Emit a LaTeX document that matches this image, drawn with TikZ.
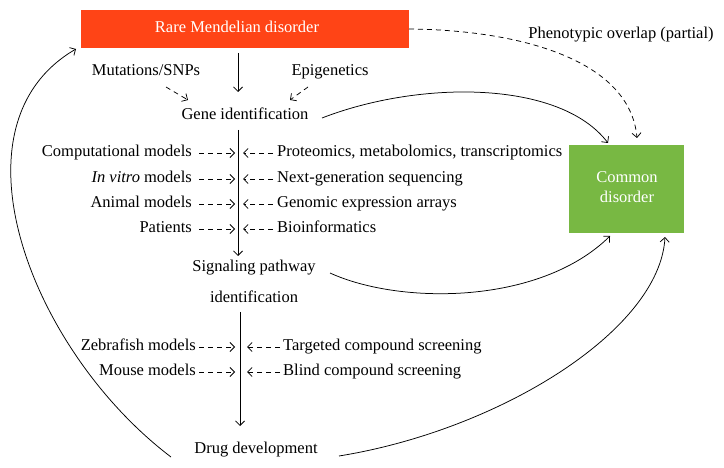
\documentclass[tikz,border=0pt]{standalone}
\usepackage{fontspec}
\setmainfont{Liberation Serif}
\usetikzlibrary{arrows.meta}
\definecolor{rared}{HTML}{FF4416}
\definecolor{comgreen}{HTML}{78B843}
\begin{document}
\begin{tikzpicture}[x=1pt,y=-1pt,
  txt/.style={font=\fontsize{16.5}{20}\selectfont, inner sep=0pt, text height=11pt, text depth=4pt},
  mtxt/.style={font=\fontsize{16.5}{20}\selectfont, inner sep=0pt, align=center},
  arr/.style={line width=0.75pt, -{Straight Barb[length=4.5pt,width=9pt]}},
  darr/.style={arr, dash pattern=on 5pt off 4pt},
  boxr/.style={fill=rared, draw=none, minimum width=328pt, minimum height=38pt, inner sep=0pt},
  boxg/.style={fill=comgreen, draw=none, minimum width=115pt, minimum height=88pt, inner sep=0pt}]
\useasboundingbox (0,0) rectangle (724,468);

% boxes
\node[boxr] (rare) at (245,29) {};
\node[txt, text=white] (raret) at (237,29) {Rare Mendelian disorder};
\node[boxg] (common) at (626.5,189) {};
\node[mtxt, text=white] (commont) at (627,187) {Common\\disorder};

% top texts
\node[txt] (mut) at (146,72) {Mutations/SNPs};
\node[txt] (epi) at (330,72) {Epigenetics};
\node[txt] (gene) at (245,116) {Gene identification};
\node[txt] (pheno) at (621,35) {Phenotypic overlap (partial)};

% left rows (upper)
\node[txt, anchor=east] (comp) at (192,153) {Computational models};
\node[txt, anchor=east] (invitro) at (192,179) {\textit{In vitro} models};
\node[txt, anchor=east] (animal) at (192,204) {Animal models};
\node[txt, anchor=east] (patients) at (192,229) {Patients};
% right rows (upper)
\node[txt, anchor=west] (prot) at (277,153) {Proteomics, metabolomics, transcriptomics};
\node[txt, anchor=west] (ngs) at (277,179) {Next-generation sequencing};
\node[txt, anchor=west] (gea) at (277,204) {Genomic expression arrays};
\node[txt, anchor=west] (bio) at (277,229) {Bioinformatics};

\node[mtxt, font=\fontsize{16.5}{31}\selectfont] (signal) at (254,281) {Signaling pathway\\identification};

% lower rows
\node[txt, anchor=east] (zebra) at (196,347) {Zebrafish models};
\node[txt, anchor=east] (mouse) at (196,372) {Mouse models};
\node[txt, anchor=west] (targ) at (283,347) {Targeted compound screening};
\node[txt, anchor=west] (blind) at (283,372) {Blind compound screening};

\node[txt] (drug) at (256,450) {Drug development};

% coordinates for the spine
\coordinate (ra) at (238,53);
\coordinate (ga) at (238,92);
\coordinate (gb) at (238,130);
\coordinate (sa) at (238,256);
\coordinate (sb) at (240,312);
\coordinate (da) at (240,426);

\draw[arr] (ra) -- (ga);
\draw[arr] (gb) -- (sa);
\draw[arr] (sb) -- (da);

% dashed into gene identification
\coordinate (m1) at (166,87); \coordinate (m2) at (188,100);
\coordinate (e1) at (308,87); \coordinate (e2) at (290,100);
\draw[darr] (m1) -- (m2);
\draw[darr] (e1) -- (e2);

% upper row arrows
\foreach \yy in {153,179,204,229}{
  \draw[darr] (199,\yy) -- (235,\yy);
  \draw[darr] (273,\yy) -- (243,\yy);
}
% lower row arrows
\foreach \yy in {347,372}{
  \draw[darr] (199,\yy) -- (235,\yy);
  \draw[darr] (280,\yy) -- (247,\yy);
}

% curves
\coordinate (gC) at (322,118);
\coordinate (cT1) at (608,143);
\draw[arr] (gC) .. controls (420,80) and (560,80) .. (cT1);

\coordinate (rE) at (409,29);
\coordinate (cT2) at (637,138);
\draw[darr] (rE) .. controls (520,30) and (630,60) .. (cT2);

\coordinate (sC) at (330,273);
\coordinate (cB1) at (610,236);
\draw[arr] (sC) .. controls (400,305) and (540,305) .. (cB1);

\coordinate (dR) at (339,456);
\coordinate (cB2) at (665,237);
\draw[arr] (dR) .. controls (500,430) and (660,330) .. (cB2);

\coordinate (dL) at (171,457);
\coordinate (rL) at (76,49);
\draw[arr] (dL) .. controls (30,350) and (-55,125) .. (rL);
\end{tikzpicture}
\end{document}
